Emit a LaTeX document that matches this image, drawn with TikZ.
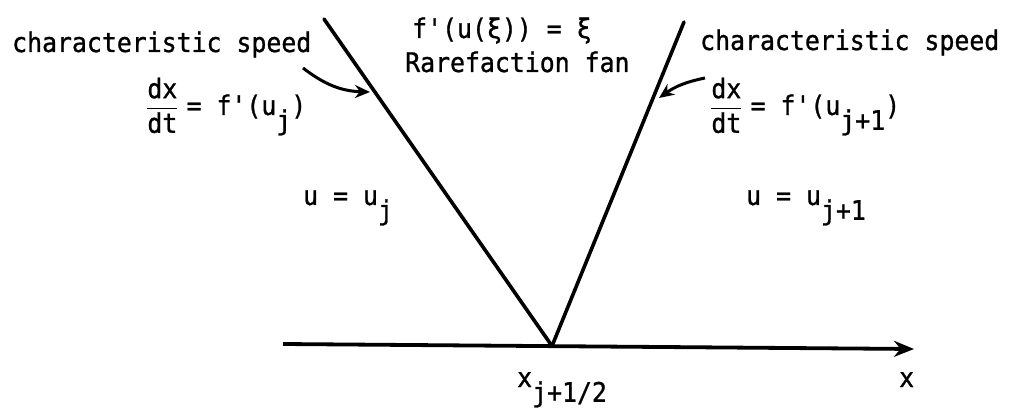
\documentclass[tikz,border=0pt]{standalone}
\usepackage{amsmath}
\usepackage{fontspec}
\setmonofont{DejaVu Sans Mono}[FakeStretch=0.92,FakeBold=1]
\usetikzlibrary{arrows.meta,calc}
\newcommand\sbx[1]{\raisebox{-0.55em}{#1}}
\newcommand\pr{\char39\relax}
\begin{document}
\begin{tikzpicture}[x=1pt,y=1pt,
  lbl/.style={anchor=base west,inner sep=0pt,font=\ttfamily\fontsize{27}{32}\selectfont},
  fanline/.style={line width=3.6pt,line cap=round},
  axisline/.style={line width=3.8pt,-{Stealth[length=20pt,width=16pt]}},
  pointer/.style={line width=3pt,-{Stealth[length=15pt,width=13pt]}}]
\useasboundingbox (0,0) rectangle (1011,410);
% axis and fan
\coordinate (A) at (283,66);
\coordinate (B) at (914,61);
\coordinate (O) at (552,64);
\coordinate (L) at (324,391);
\coordinate (R) at (684,388);
\draw[axisline] (A) -- (B);
\draw[fanline] (O) -- (L);
\draw[fanline] (O) -- (R);
% labels
\node[lbl] (csl) at (12,358) {characteristic speed};
\node[lbl] (csr) at (700,360) {characteristic speed};
\node[lbl] (fxi) at (412,372) {f\pr(u(ξ)) = ξ};
\node[lbl] (rf) at (405,338) {Rarefaction fan};
\node[lbl] (fl) at (146,295) {$\dfrac{\text{dx}}{\text{dt}}$\hspace{0.3em}=\ f\pr(u\sbx{j})};
\node[lbl] (fr) at (710,295) {$\dfrac{\text{dx}}{\text{dt}}$\hspace{0.3em}=\ f\pr(u\sbx{j+1})};
\node[lbl] (ul) at (303,205) {u = u\sbx{j}};
\node[lbl] (ur) at (746,205) {u = u\sbx{j+1}};
\node[lbl] (xh) at (517,23) {x\sbx{j+1/2}};
\node[lbl] (xl) at (899,23) {x};
% pointers
\coordinate (pl0) at (303,342);
\coordinate (pl1) at (370,318);
\coordinate (pr0) at (705,332);
\coordinate (pr1) at (659,312);
\draw[pointer] (pl0) to[bend right=18] (pl1);
\draw[pointer] (pr0) to[bend right=12] (pr1);
\end{tikzpicture}
\end{document}
